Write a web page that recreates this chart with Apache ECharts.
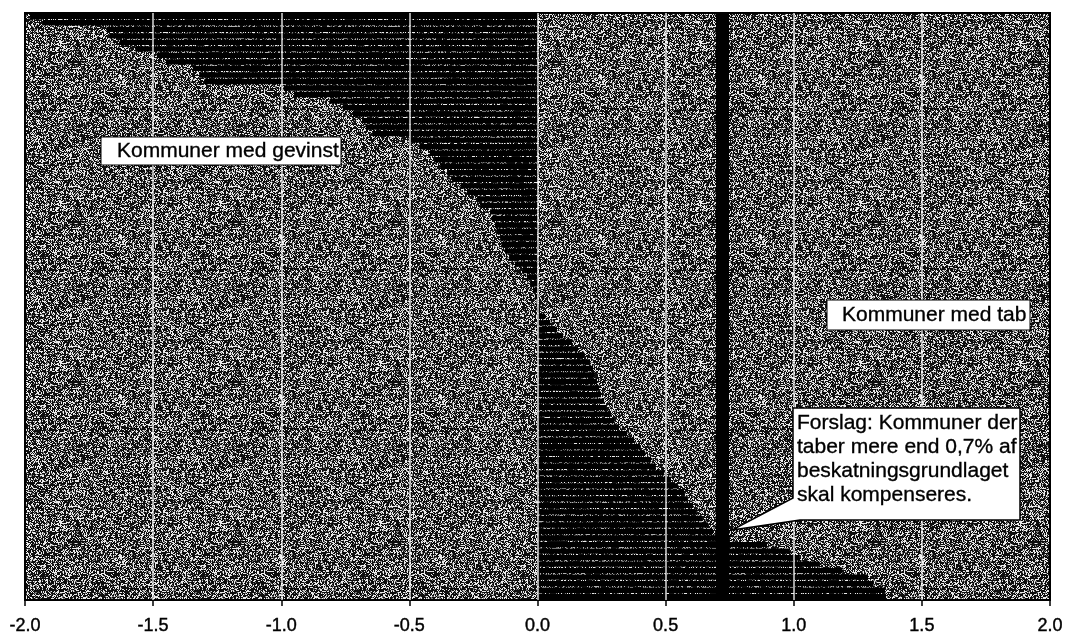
<!DOCTYPE html>
<html><head><meta charset="utf-8">
<script src="https://cdn.jsdelivr.net/npm/echarts@6/dist/echarts.min.js"></script>
<style>html,body{margin:0;padding:0;background:#fff}#c{width:1067px;height:636px}</style>
</head><body><div id="c"></div>
<script>
// Values (top bar first): share of tax base gained (-) / lost (+)
const values = [
  -1.98,-1.93,-1.68,-1.67,-1.63,-1.57,-1.485,-1.45,-1.345,-1.32,
  -1.30,-0.99,-0.95,-0.81,-0.76,-0.72,-0.685,-0.67,-0.645,-0.50,
  -0.46,-0.42,-0.40,-0.38,-0.353,-0.334,-0.30,-0.275,-0.236,-0.224,
  -0.185,-0.178,-0.166,-0.158,-0.146,-0.139,-0.127,-0.111,-0.088,-0.06,
  -0.041,-0.029,-0.018,-0.01,-0.004,0.01,0.03,0.05,0.076,0.10,
  0.135,0.158,0.185,0.205,0.217,0.224,0.232,0.24,0.248,0.26,
  0.271,0.287,0.299,0.318,0.349,0.377,0.40,0.42,0.443,0.462,
  0.494,0.521,0.548,0.572,0.587,0.607,0.622,0.642,0.665,0.685,
  0.751,0.896,0.985,1.024,1.10,1.19,1.29,1.31,1.356,1.36
];
const categories = values.map((v, i) => 'Kommune ' + (i + 1));
const gridValues = [-1.5, -1.0, -0.5, 0.0, 0.5, 1.0, 1.5];
const thresholdValue = 0.72;
const labelGain = 'Kommuner med gevinst';
const labelLoss = 'Kommuner med tab';
const labelProposal = ['Forslag: Kommuner der', 'taber mere end 0,7% af', 'beskatningsgrundlaget', 'skal kompenseres.'];

const FONT = '"Liberation Sans", Arial, Helvetica, sans-serif';

// speckled scan-like texture for the plot background (style only)
function makeTexture() {
  const n = 160;
  const c = document.createElement('canvas');
  c.width = n; c.height = n;
  const ctx = c.getContext('2d');
  const img = ctx.createImageData(n, n);
  let s = 2463534242;
  for (let i = 0; i < n * n; i++) {
    s ^= s << 13; s ^= s >>> 17; s ^= s << 5;
    const r = ((s >>> 0) % 1000) / 1000;
    const g = r < 0.30 ? 235 : (r < 0.42 ? 120 : 14);
    img.data[i * 4] = img.data[i * 4 + 1] = img.data[i * 4 + 2] = g;
    img.data[i * 4 + 3] = 255;
  }
  ctx.putImageData(img, 0, 0);
  return c;
}

const txt = (text, x, y, extra) => ({
  type: 'text', z: 101, x: x, y: y,
  style: Object.assign({
    text: text, fill: '#000', font: '21px ' + FONT,
    stroke: '#000', lineWidth: 0.35
  }, extra)
});

const chart = echarts.init(document.getElementById('c'), null, { renderer: 'canvas' });
chart.setOption({
  animation: false,
  backgroundColor: '#ffffff',
  grid: {
    left: 25, right: 17, top: 13, bottom: 36,
    show: true,
    backgroundColor: { image: makeTexture(), repeat: 'repeat' },
    borderColor: '#000', borderWidth: 2
  },
  xAxis: {
    type: 'value', min: -2, max: 2, interval: 0.5,
    axisLine: { show: true, lineStyle: { color: '#000', width: 2 } },
    axisTick: { show: true, length: 6, lineStyle: { color: '#000', width: 1.5 } },
    axisLabel: {
      color: '#000', fontSize: 18, fontFamily: FONT, margin: 17,
      textBorderColor: '#000', textBorderWidth: 0.4,
      formatter: v => v.toFixed(1)
    },
    splitLine: { show: false }
  },
  yAxis: {
    type: 'category', data: categories, inverse: true,
    axisLine: { show: false }, axisTick: { show: false }, axisLabel: { show: false },
    splitLine: { show: false }
  },
  series: [
    {
      type: 'bar', data: values, barCategoryGap: '18%', z: 2,
      itemStyle: { color: '#000' }
    },
    {
      type: 'line', data: [], z: 3, silent: true,
      markLine: {
        silent: true, symbol: ['none', 'none'], label: { show: false },
        lineStyle: { color: '#ffffff', width: 1.5, type: 'solid', opacity: 0.85 },
        data: gridValues.map(v => ({ xAxis: v }))
      }
    },
    {
      type: 'line', data: [], z: 4, silent: true,
      markLine: {
        silent: true, symbol: ['none', 'none'], label: { show: false },
        lineStyle: { color: '#000', width: 13, type: 'solid' },
        data: [{ xAxis: thresholdValue }]
      }
    }
  ],
  graphic: [
    { type: 'rect', z: 100, shape: { x: 101, y: 137, width: 240, height: 28 },
      style: { fill: '#fff', stroke: '#000', lineWidth: 1 } },
    txt(labelGain, 117, 151, { verticalAlign: 'middle' }),
    { type: 'rect', z: 100, shape: { x: 827, y: 300, width: 203, height: 30 },
      style: { fill: '#fff', stroke: '#000', lineWidth: 1 } },
    txt(labelLoss, 842, 315, { verticalAlign: 'middle' }),
    { type: 'polygon', z: 100,
      shape: { points: [[793, 408], [1020, 408], [1020, 520], [800, 520], [732, 530], [793, 498]] },
      style: { fill: '#fff', stroke: '#000', lineWidth: 1.5 } },
    txt(labelProposal.join('\n'), 797, 411, { lineHeight: 24, verticalAlign: 'top' })
  ]
});
</script>
</body></html>
